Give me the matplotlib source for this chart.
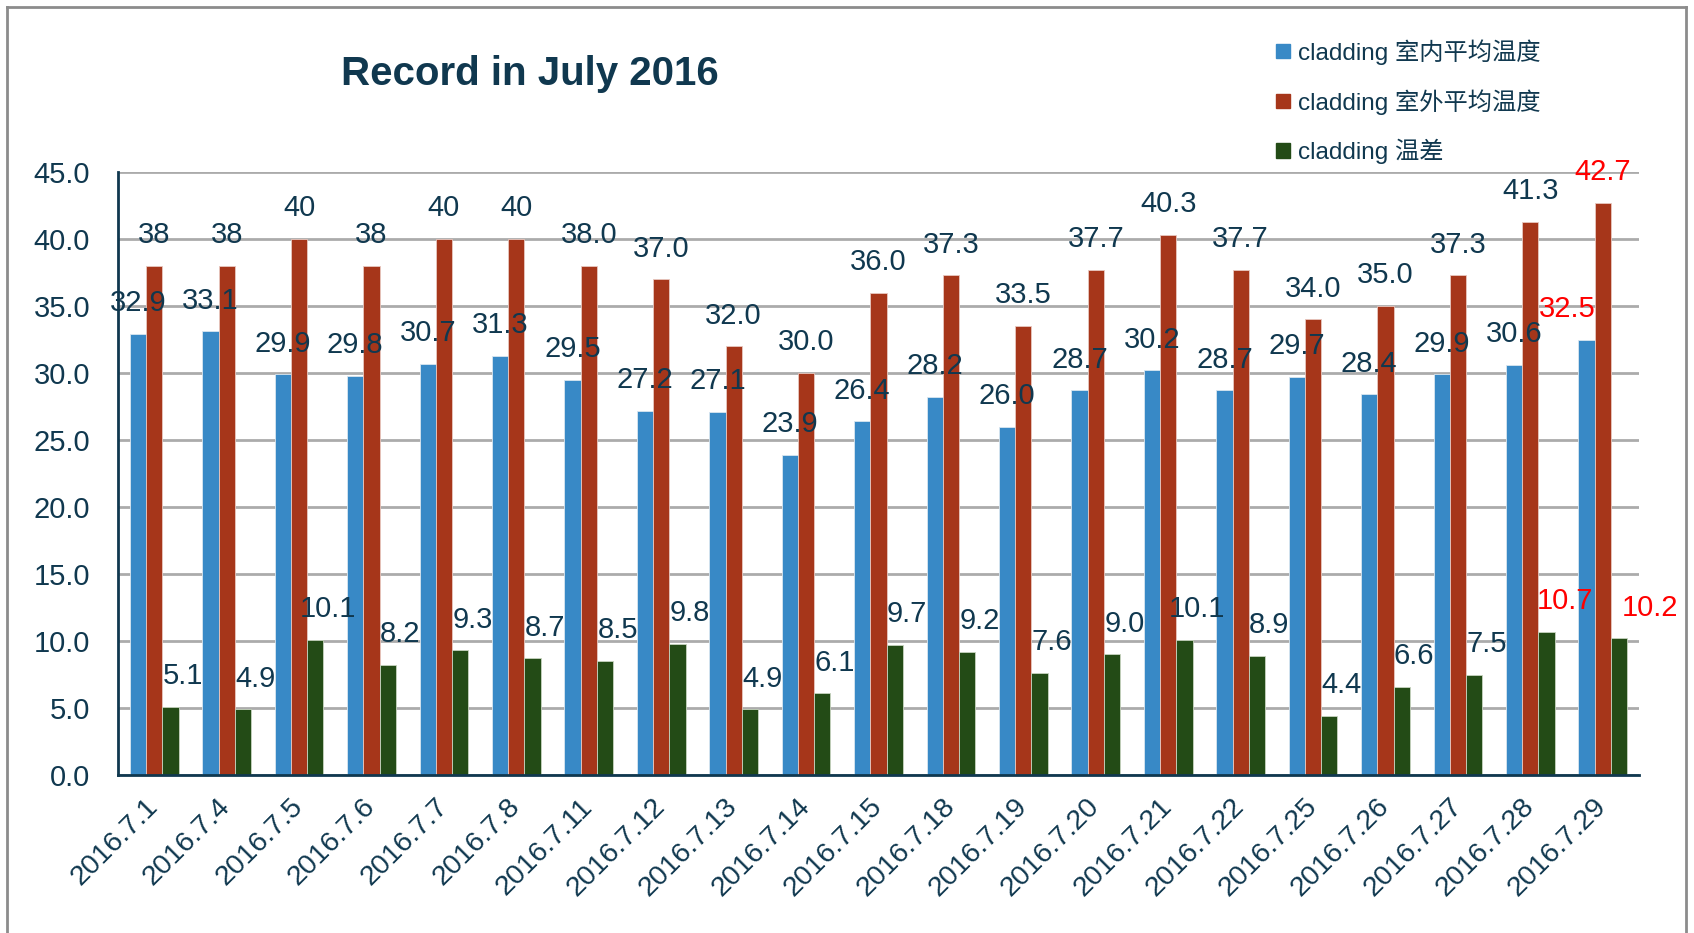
import matplotlib
matplotlib.use("Agg")
import matplotlib.pyplot as plt
from matplotlib.patches import Patch
from matplotlib.lines import Line2D
from matplotlib.transforms import ScaledTranslation
import numpy as np

# 数据
dates = ['2016.7.1', '2016.7.4', '2016.7.5', '2016.7.6', '2016.7.7', '2016.7.8',
         '2016.7.11', '2016.7.12', '2016.7.13', '2016.7.14', '2016.7.15',
         '2016.7.18', '2016.7.19', '2016.7.20', '2016.7.21', '2016.7.22',
         '2016.7.25', '2016.7.26', '2016.7.27', '2016.7.28', '2016.7.29']
indoor = [32.9, 33.1, 29.9, 29.8, 30.7, 31.3, 29.5, 27.2, 27.1, 23.9, 26.4,
          28.2, 26.0, 28.7, 30.2, 28.7, 29.7, 28.4, 29.9, 30.6, 32.5]
outdoor = [38, 38, 40, 38, 40, 40, 38.0, 37.0, 32.0, 30.0, 36.0,
           37.3, 33.5, 37.7, 40.3, 37.7, 34.0, 35.0, 37.3, 41.3, 42.7]
outdoor_labels = ['38', '38', '40', '38', '40', '40', '38.0', '37.0', '32.0', '30.0', '36.0',
                  '37.3', '33.5', '37.7', '40.3', '37.7', '34.0', '35.0', '37.3', '41.3', '42.7']
diff = [5.1, 4.9, 10.1, 8.2, 9.3, 8.7, 8.5, 9.8, 4.9, 6.1, 9.7,
        9.2, 7.6, 9.0, 10.1, 8.9, 4.4, 6.6, 7.5, 10.7, 10.2]
series_names = ['cladding 室内平均温度', 'cladding 室外平均温度', 'cladding 温差']

yticks = np.arange(0, 46, 5)

# 样式
c_blue = '#3889c6'
c_red = '#a6361a'
c_green = '#234b16'
c_text = '#10384f'
c_grid = '#ababab'
fs_lab = 21

plt.rcParams['font.family'] = ['Liberation Sans', 'Noto Sans CJK SC', 'DejaVu Sans']

fig = plt.figure(figsize=(16.94, 9.33), dpi=100)
W, H = 1694, 933
ax = fig.add_axes([118 / W, 1 - 775 / H, (1639 - 118) / W, (775 - 172) / H])

x = np.arange(len(dates))
bw = 0.224
ax.bar(x - bw, indoor, bw, color=c_blue, edgecolor='#d9e6f0', linewidth=0.6, zorder=3)
ax.bar(x, outdoor, bw, color=c_red, edgecolor='#e8c8c0', linewidth=0.6, zorder=3)
ax.bar(x + bw, diff, bw, color=c_green, edgecolor='#c8d4c0', linewidth=0.6, zorder=3)

ax.set_xlim(-0.5, len(dates) - 0.5)
ax.set_ylim(0, 45)
ax.set_yticks(yticks)
ax.set_yticklabels(['%.1f' % v for v in yticks], fontsize=fs_lab, color=c_text)
ax.set_xticks(x)
ax.set_xticklabels(dates, fontsize=fs_lab - 0.5, color=c_text, rotation=45,
                   ha='right', va='center', rotation_mode='anchor')
shift = ScaledTranslation(4 / 100, 0, fig.dpi_scale_trans)
for t in ax.get_xticklabels():
    t.set_transform(t.get_transform() + shift)
ax.tick_params(axis='both', length=0)
ax.tick_params(axis='y', pad=20)
ax.tick_params(axis='x', pad=20)
ax.grid(axis='y', color=c_grid, linewidth=2, zorder=0)
for s in ['top', 'right']:
    ax.spines[s].set_visible(False)
for s in ['left', 'bottom']:
    ax.spines[s].set_color(c_text)
    ax.spines[s].set_linewidth(2)
    ax.spines[s].set_zorder(4)

# 数据标签（个别标签手动移位、红色标出）
red_marks = {(0, 20): -14, (1, 20): 0, (2, 19): 13, (2, 20): 22}
for k, (vals, labs, dx) in enumerate([
        (indoor, ['%.1f' % v for v in indoor], -bw),
        (outdoor, outdoor_labels, 0),
        (diff, ['%.1f' % v for v in diff], bw)]):
    for i, (v, lab) in enumerate(zip(vals, labs)):
        off = 9 if k == 2 else 0
        col = c_text
        if (k, i) in red_marks:
            off = red_marks[(k, i)]
            col = '#ff0000'
        ax.annotate(lab, (x[i] + dx, v), xytext=(off, 12), textcoords='offset points',
                    ha='center', va='bottom', fontsize=fs_lab, color=col, zorder=5)

fig.text(530 / W, 1 - 74 / H, 'Record in July 2016', fontsize=29, fontweight='bold',
         color=c_text, ha='center', va='center')

handles = [Patch(color=c) for c in [c_blue, c_red, c_green]]
leg = fig.legend(handles, series_names, loc='upper left',
                 bbox_to_anchor=(1254 / W, 1 - 17 / H), frameon=False,
                 prop={'family': ['Liberation Sans', 'Noto Sans CJK SC'], 'size': 17.5},
                 handlelength=0.57, handleheight=0.57, handletextpad=0.35, labelspacing=1.0)
for t in leg.get_texts():
    t.set_color(c_text)

# 外框
for xs, ys in [([7, 1686], [7, 7]), ([1686, 1686], [7, 933]), ([7, 7], [7, 933])]:
    fig.add_artist(Line2D([xs[0] / W, xs[1] / W], [1 - ys[0] / H, 1 - ys[1] / H],
                          transform=fig.transFigure, color='#8c8c8c', linewidth=2))

fig.savefig('out.png', dpi=100)
